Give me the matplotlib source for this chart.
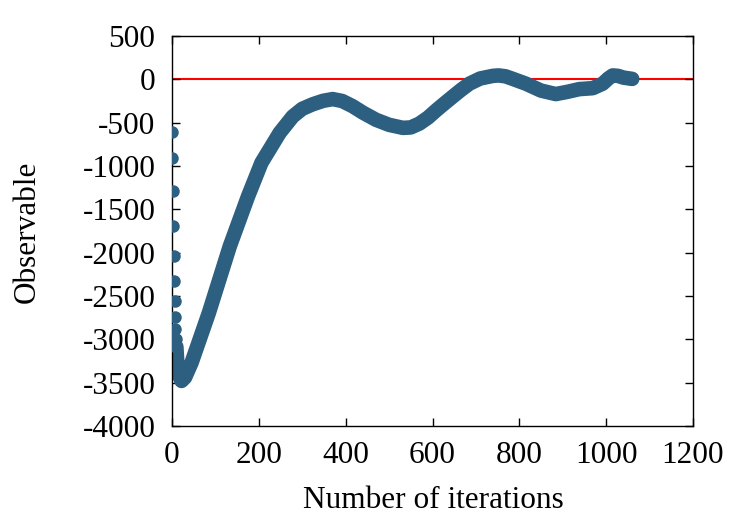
import matplotlib
matplotlib.use("Agg")
import matplotlib.pyplot as plt

# Early, well-separated iterations (drawn as individual dots)
iter_early = [0, 1, 2, 3, 4, 5, 6, 7, 8, 9, 10]
obs_early = [-602, -902, -1286, -1690, -2036, -2332, -2555, -2739, -2878, -2993, -3085]

# Dense part of the series (markers overlap into a thick band)
iter_curve = [10, 12, 15, 22, 30, 45, 85, 133, 175, 206, 248, 278, 300, 324,
              348, 370, 392, 416, 440, 470, 500, 532, 550, 570, 590, 608,
              627, 647, 665, 685, 710, 739, 752, 768, 785, 815, 850, 884,
              910, 938, 969, 992, 1005, 1015, 1027, 1040, 1060]
obs_curve = [-3085, -3250, -3400, -3480, -3440, -3270, -2693, -1928, -1352,
             -963, -617, -429, -340, -288, -248, -228, -250, -310, -385,
             -467, -525, -560, -555, -510, -440, -360, -280, -198, -125,
             -50, 10, 40, 45, 35, 5, -50, -130, -170, -145, -113, -102,
             -50, 10, 45, 40, 20, 5]

xticks = [0, 200, 400, 600, 800, 1000, 1200]
yticks = [500, 0, -500, -1000, -1500, -2000, -2500, -3000, -3500, -4000]

color = "#2d5f80"
plt.rcParams["font.family"] = ["Liberation Serif", "DejaVu Serif"]

fig = plt.figure(figsize=(7.5, 5.25), dpi=100)
ax = fig.add_axes([172/750, 1-426/525, (693-172)/750, (426-36)/525])

ax.axhline(0, color="red", lw=1.5, zorder=1)
ax.plot(iter_curve, obs_curve, color=color, lw=10.5, solid_capstyle="round",
        solid_joinstyle="round", zorder=2)
ax.plot(iter_early, obs_early, "o", color=color, markersize=9,
        markeredgewidth=0, zorder=3)

ax.set_xlim(0, 1200)
ax.set_ylim(-4000, 500)
ax.set_xticks(xticks)
ax.set_yticks(yticks)
ax.set_xticklabels([str(t) for t in xticks])
ax.set_yticklabels([str(t) for t in yticks])
ax.tick_params(direction="in", length=6, width=1, top=True, right=True,
               labelsize=22.5, colors="black")
ax.tick_params(axis="x", pad=11)
ax.tick_params(axis="y", pad=12)
for s in ax.spines.values():
    s.set_linewidth(1.0)
    s.set_color("black")

fig.text(27/750, 1-232/525, "Observable", rotation=90, ha="center",
         va="center", fontsize=22.5)
fig.text(433/750, 1-500/525, "Number of iterations", ha="center",
         va="center", fontsize=22.5)

fig.savefig("out.png", dpi=100)
